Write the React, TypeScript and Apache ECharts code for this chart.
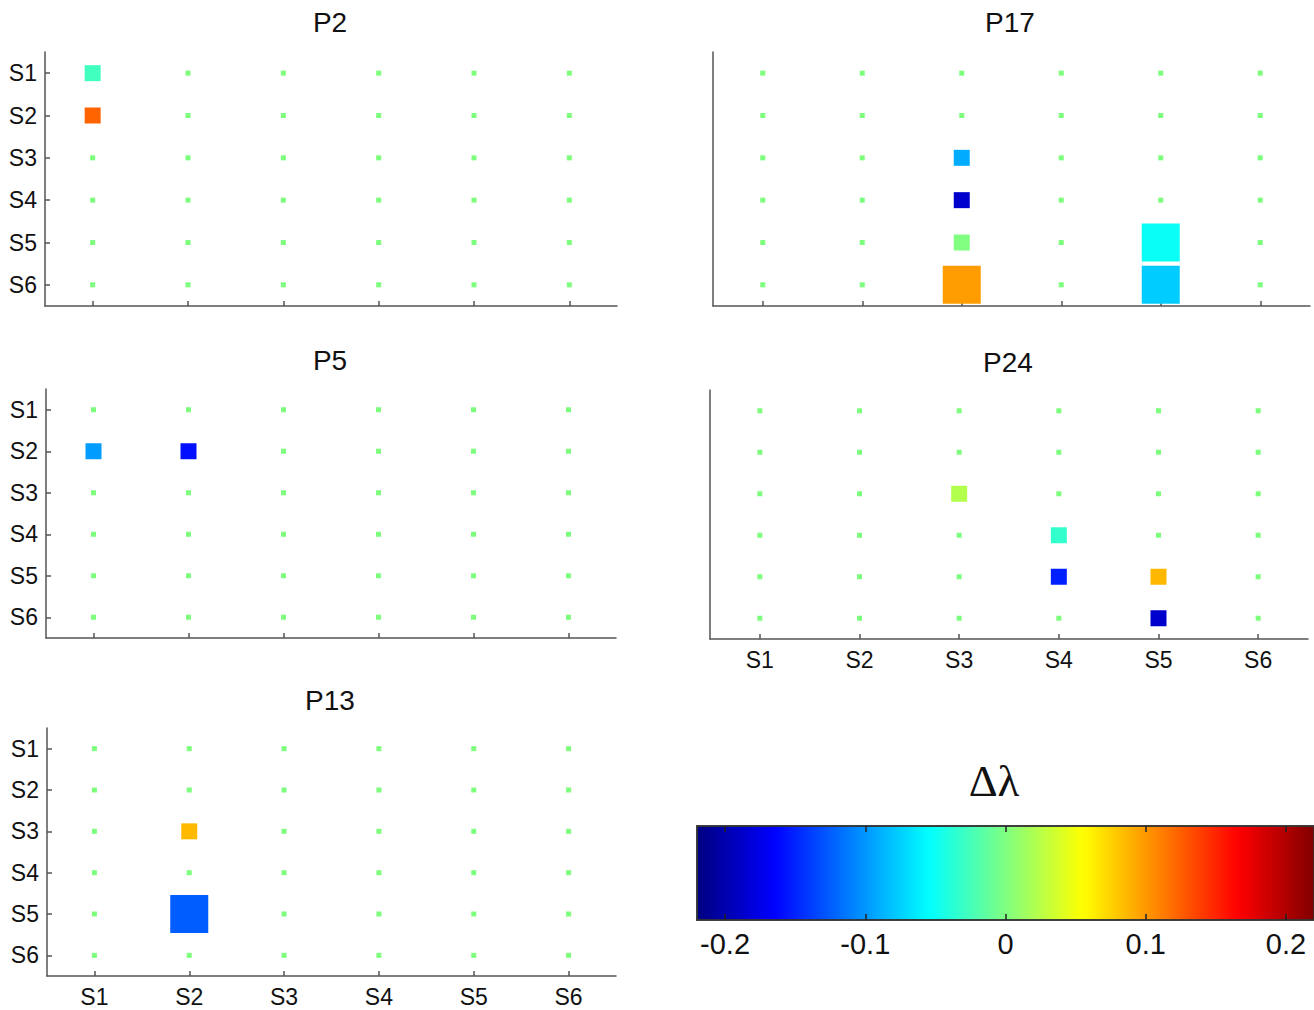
import React, { useEffect, useRef } from "react";
import * as echarts from "echarts";

// ---------- data ----------
const stations = ["S1", "S2", "S3", "S4", "S5", "S6"];
const colorTicks = [-0.2, -0.1, 0, 0.1, 0.2];
const colorMin = -0.22;
const colorMax = 0.22;

// [column station, row station, Δλ, size class (1 = small, 2 = large)]
const p2Cells = [
  ["S1", "S1", -0.027, 1],
  ["S1", "S2", 0.122, 1],
];
const p5Cells = [
  ["S1", "S2", -0.098, 1],
  ["S2", "S2", -0.158, 1],
];
const p13Cells = [
  ["S2", "S3", 0.085, 1],
  ["S2", "S5", -0.125, 2],
];
const p17Cells = [
  ["S3", "S3", -0.091, 1],
  ["S3", "S4", -0.187, 1],
  ["S3", "S5", 0.0, 1],
  ["S3", "S6", 0.098, 2],
  ["S5", "S5", -0.051, 2],
  ["S5", "S6", -0.077, 2],
];
const p24Cells = [
  ["S3", "S3", 0.022, 1],
  ["S4", "S4", -0.033, 1],
  ["S4", "S5", -0.151, 1],
  ["S5", "S5", 0.086, 1],
  ["S5", "S6", -0.187, 1],
];

// ---------- styles / layout ----------
const jet = [
  "#000080", "#0000ff", "#0080ff", "#00ffff", "#80ff80",
  "#ffff00", "#ff8000", "#ff0000", "#800000",
];
const FONT = "Liberation Sans, Arial, sans-serif";
const AXIS_COLOR = "#555";
const DOT_COLOR = "#5cff5c";

const panels = [
  { name: "P2", cells: p2Cells, left: 45, top: 52, width: 572, height: 254, xLabels: false, yLabels: true, tx: 330, ty: 22 },
  { name: "P17", cells: p17Cells, left: 713, top: 52, width: 597, height: 254, xLabels: false, yLabels: false, tx: 1010, ty: 22 },
  { name: "P5", cells: p5Cells, left: 46, top: 389, width: 570, height: 249, xLabels: false, yLabels: true, tx: 330, ty: 360 },
  { name: "P24", cells: p24Cells, left: 710, top: 390, width: 598, height: 249, xLabels: true, yLabels: false, tx: 1008, ty: 362 },
  { name: "P13", cells: p13Cells, left: 47, top: 728, width: 569, height: 248, xLabels: true, yLabels: true, tx: 330, ty: 700 },
];
const CB = { left: 697, top: 826, width: 618, height: 94 };

function buildOption() {
  const grid: any[] = panels.map((p) => ({
    left: p.left, top: p.top, width: p.width, height: p.height,
  }));
  grid.push({
    left: CB.left, top: CB.top, width: CB.width, height: CB.height,
    show: true, borderColor: "#333", borderWidth: 1.5, backgroundColor: "transparent", z: 10,
  });

  const xAxis: any[] = panels.map((p, i) => ({
    gridIndex: i,
    type: "category",
    data: stations,
    position: "bottom",
    axisLine: { show: true, onZero: false, lineStyle: { color: AXIS_COLOR, width: 1.5 } },
    axisTick: { show: true, inside: true, alignWithLabel: true, length: 5, lineStyle: { color: AXIS_COLOR, width: 1.5 } },
    axisLabel: { show: p.xLabels, fontSize: 23, color: "#111", fontFamily: FONT, margin: 9 },
    splitLine: { show: false },
  }));
  const yAxis: any[] = panels.map((p, i) => ({
    gridIndex: i,
    type: "category",
    data: stations,
    inverse: true,
    position: "left",
    axisLine: { show: true, onZero: false, lineStyle: { color: AXIS_COLOR, width: 1.5 } },
    axisTick: { show: p.yLabels, inside: true, alignWithLabel: true, length: 5, lineStyle: { color: AXIS_COLOR, width: 1.5 } },
    axisLabel: { show: p.yLabels, fontSize: 23, color: "#111", fontFamily: FONT, margin: 8 },
    splitLine: { show: false },
  }));

  // colour bar axes
  xAxis.push({
    gridIndex: 5, type: "value", min: colorMin, max: colorMax, position: "bottom", z: 10,
    axisLine: { show: true, onZero: false, lineStyle: { color: "#333", width: 1.5 } },
    axisTick: { show: true, inside: true, length: 6, customValues: colorTicks, lineStyle: { color: "#222", width: 1.5 } },
    axisLabel: { show: true, customValues: colorTicks, fontSize: 29, color: "#111", fontFamily: FONT, margin: 9 },
    splitLine: { show: false },
  });
  xAxis.push({
    gridIndex: 5, type: "value", min: colorMin, max: colorMax, position: "top", z: 10,
    axisLine: { show: true, onZero: false, lineStyle: { color: "#333", width: 1.5 } },
    axisTick: { show: true, inside: true, length: 6, customValues: colorTicks, lineStyle: { color: "#222", width: 1.5 } },
    axisLabel: { show: false },
    splitLine: { show: false },
  });
  yAxis.push({
    gridIndex: 5, type: "value", min: 0, max: 1, position: "left", z: 10,
    axisLine: { show: true, onZero: false, lineStyle: { color: "#333", width: 1.5 } },
    axisTick: { show: false }, axisLabel: { show: false }, splitLine: { show: false },
  });

  const series: any[] = [];
  const squareIdx: number[] = [];
  panels.forEach((p, i) => {
    series.push({
      type: "scatter",
      xAxisIndex: i, yAxisIndex: i,
      symbol: "rect", symbolSize: 5, silent: true, z: 2,
      itemStyle: { color: DOT_COLOR },
      data: stations.flatMap((sx) => stations.map((sy) => [sx, sy])),
    });
    squareIdx.push(series.length);
    series.push({
      type: "scatter",
      name: p.name,
      xAxisIndex: i, yAxisIndex: i,
      symbol: "rect", z: 3,
      symbolSize: (val: any[]) => (val[3] === 2 ? 38 : 16),
      itemStyle: { opacity: 1 },
      data: p.cells,
    });
  });

  const graphic: any[] = panels.map((p) => ({
    type: "text", x: p.tx, y: p.ty, z: 20,
    style: {
      text: p.name, fill: "#111", font: `28px ${FONT}`,
      align: "center", verticalAlign: "middle", textAlign: "center", textVerticalAlign: "middle",
    },
  }));
  graphic.push({
    type: "text", x: 994, y: 781, z: 20,
    style: {
      text: "Δλ", fill: "#111", font: "45px 'Liberation Serif', 'DejaVu Serif', serif",
      align: "center", verticalAlign: "middle", textAlign: "center", textVerticalAlign: "middle",
    },
  });

  return {
    animation: false,
    backgroundColor: "#fff",
    textStyle: { fontFamily: FONT },
    grid, xAxis, yAxis, series, graphic,
    visualMap: {
      type: "continuous",
      min: colorMin, max: colorMax,
      dimension: 2,
      seriesIndex: squareIdx,
      inRange: { color: jet },
      orient: "horizontal",
      left: CB.left, top: CB.top,
      itemWidth: CB.height, itemHeight: CB.width,
      calculable: false, hoverLink: false, padding: 0,
      text: null, showLabel: false, z: 4,
    },
  };
}

export default function App() {
  const ref = useRef<HTMLDivElement>(null);
  useEffect(() => {
    if (!ref.current) return;
    const chart = echarts.init(ref.current, null, { renderer: "svg" });
    chart.setOption(buildOption() as any);
    return () => chart.dispose();
  }, []);
  return (
    <div
      ref={ref}
      style={{ position: "absolute", left: 0, top: 0, width: 1314, height: 1010, background: "#fff" }}
    />
  );
}
